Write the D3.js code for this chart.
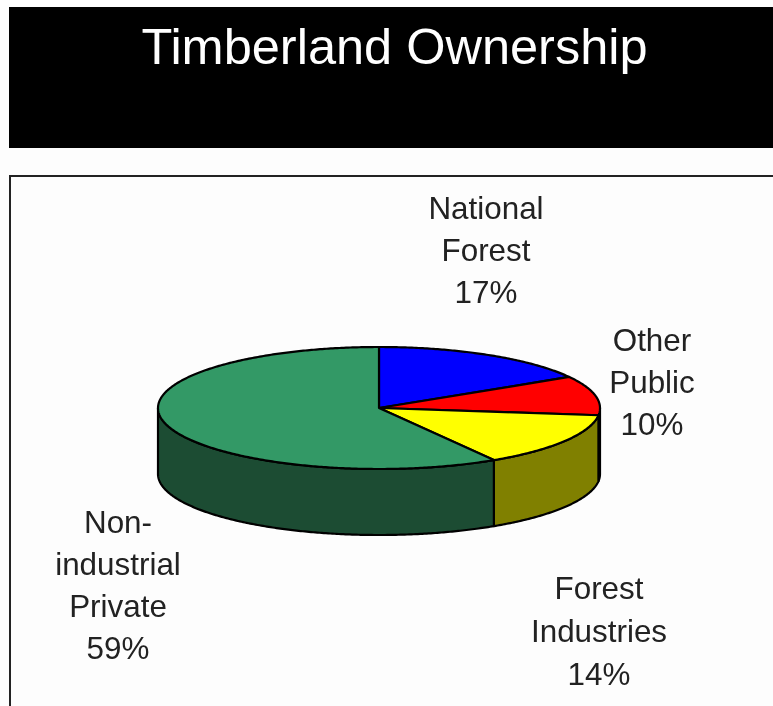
<!DOCTYPE html>
<html>
<head>
<meta charset="utf-8">
<script src="https://cdn.jsdelivr.net/npm/d3@7"></script>
<style>
html,body{margin:0;padding:0;background:#fdfdfd;overflow:hidden}
svg{display:block;filter:blur(0.6px)}
text{font-family:"Liberation Sans",Arial,sans-serif}
</style>
</head>
<body>
<div id="chart-area"></div>
<script>
// chart values, shares read from the slice edges (they round to the printed labels)
var title="Timberland Ownership";
var categories=["National Forest","Other Public","Forest Industries","Non-industrial Private"];
var shares=[16.5,10.4,14.4,58.7];
var topColors=["#0000ff","#ff0000","#ffff00","#339966"];
var wallColors=["#000080","#800000","#808000","#1c4c33"];
var labelLines=[["National","Forest","17%"],["Other","Public","10%"],["Forest","Industries","14%"],["Non-","industrial","Private","59%"]];

var width=773,height=706;
var cx=379,cy=408,rx=221,ry=61,depth=66;
// top line centre of every label, and line spacing
var labelPos=[[486,208],[652,340],[599,588],[118,522]];
var lineGaps=[42,42,43,42];

var svg=d3.select("#chart-area").append("svg").attr("width",width).attr("height",height);

//banner
svg.append("rect").attr("x",9).attr("y",7).attr("width",width-9).attr("height",141).attr("fill","#000");
svg.append("text").attr("x",394.5).attr("y",64)
	.attr("text-anchor","middle").style("font-size","50.5px").attr("fill","#fff").text(title);

//frame
svg.append("path").attr("d",d3.line()([[10,height],[10,176],[width,176]]))
	.attr("fill","none").attr("stroke","#222").attr("stroke-width",2);

var slices=d3.pie().sort(null).value(function(d){return d;})(shares);
var rim=function(a){return [cx+rx*Math.sin(a),cy-ry*Math.cos(a)];};
var line=d3.line();

function arcPoints(a0,a1,dy){
	var n=Math.max(2,Math.ceil((a1-a0)/0.01));
	return d3.range(n+1).map(function(i){
		var p=rim(a0+(a1-a0)*i/n);
		return [p[0],p[1]+dy];
	});
}

//walls, only the part facing the viewer
var walls=svg.append("g");
slices.forEach(function(s,i){
	var a0=Math.max(s.startAngle,Math.PI/2),a1=Math.min(s.endAngle,Math.PI*1.5);
	if(a1<=a0) return;
	var pts=arcPoints(a0,a1,0).concat(arcPoints(a0,a1,depth).reverse());
	walls.append("path").attr("d",line(pts)+"Z")
		.attr("fill",wallColors[i]).attr("stroke","#000").attr("stroke-width",2.2).attr("stroke-linejoin","round");
});

//top face
var tops=svg.append("g");
slices.forEach(function(s,i){
	var pts=[[cx,cy]].concat(arcPoints(s.startAngle,s.endAngle,0));
	tops.append("path").attr("d",line(pts)+"Z")
		.attr("fill",topColors[i]).attr("stroke","#000").attr("stroke-width",2.2).attr("stroke-linejoin","round");
});

//labels
labelLines.forEach(function(lines,i){
	var t=svg.append("text").attr("text-anchor","middle").attr("fill","#222").style("font-size","31.4px")
		.attr("aria-label",categories[i]);
	lines.forEach(function(l,j){
		t.append("tspan").attr("x",labelPos[i][0]).attr("y",labelPos[i][1]+11+j*lineGaps[i]).text(l);
	});
});
</script>
</body>
</html>
